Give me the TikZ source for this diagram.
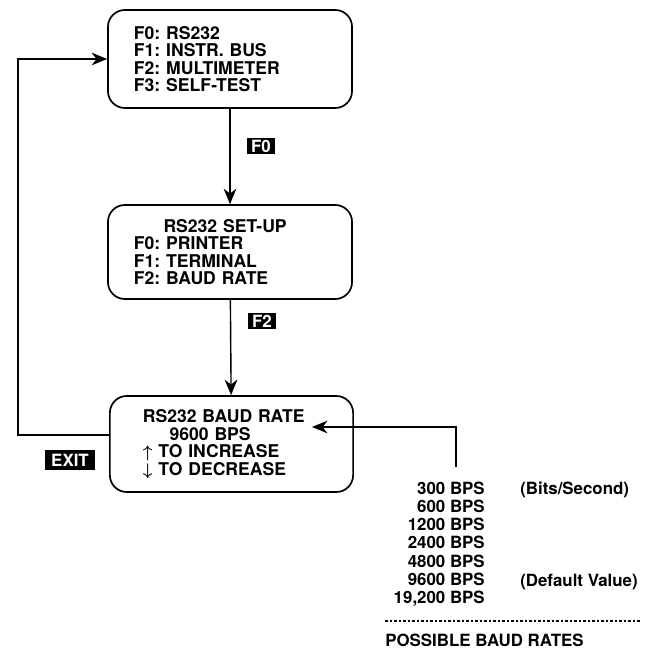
\documentclass[tikz,border=0pt]{standalone}
\usepackage{fontspec}
\setmainfont{TeX Gyre Heros}
\frenchspacing
\usetikzlibrary{arrows.meta}
\begin{document}
\begin{tikzpicture}[x=0.025cm,y=-0.025cm,
  menu/.style={draw,line width=1.2pt,rounded corners=12pt,align=left,inner xsep=0.65cm,text width=4.8cm,font=\bfseries\fontsize{12.5}{12.5}\selectfont},
  key/.style={fill=black,text=white,font=\bfseries\fontsize{12}{12}\selectfont,inner xsep=3pt,inner ysep=1.5pt,minimum height=0.4cm},
  arr/.style={line width=1pt,-{Stealth[length=11pt,width=9pt,inset=3.5pt]}},
  lbl/.style={font=\bfseries\fontsize{12}{13}\selectfont,inner sep=0pt}]
\useasboundingbox (0,0) rectangle (648,648);
\node[menu,minimum height=2.45cm] (main) at (230,59) {F0: RS232\\F1: INSTR. BUS\\F2: MULTIMETER\\F3: SELF-TEST};
\node[menu,minimum height=2.35cm] (setup) at (230,252) {\hspace*{21pt}RS232 SET-UP\\F0: PRINTER\\F1: TERMINAL\\F2: BAUD RATE};
\node[menu,minimum height=2.4cm,inner xsep=0.825cm,text width=4.43cm] (baud) at (231.5,444)
  {RS232 BAUD RATE\\\hspace*{19pt}9600 BPS\\{\boldmath$\uparrow$} TO INCREASE\\{\boldmath$\downarrow$} TO DECREASE};
\node[key] (keyfzero) at (261,146) {F0};
\node[key] (keyftwo) at (262,321) {F2};
\node[key,minimum width=1.25cm,minimum height=0.5cm] (keyexit) at (70,460) {EXIT};
\draw[arr] (main) -- (setup);
\draw[arr] (setup) -- (baud);
\draw[arr] ([yshift=0.225cm]baud.west) -- ++(-91,0) |- (main.west);
\coordinate (ratetop) at (456,467);
\coordinate (ratetip) at (312,427);
\draw[arr] (ratetop) |- (ratetip);
\foreach \r [count=\i from 0] in {300,600,1200,2400,4800,9600,{19,200}}
  \node[lbl,anchor=base east] (rate\i) at (485,494+18.3*\i) {\r\ BPS};
\node[lbl,anchor=base west] (bitsnote) at (520,494) {(Bits/Second)};
\node[lbl,anchor=base west] (defnote) at (520,586) {(Default Value)};
\draw[line width=0.8pt,dash pattern=on 2pt off 1.2pt] (385,621) -- (640,621);
\node[lbl,anchor=base west] (ratestitle) at (385,646) {POSSIBLE BAUD RATES};
\end{tikzpicture}
\end{document}
